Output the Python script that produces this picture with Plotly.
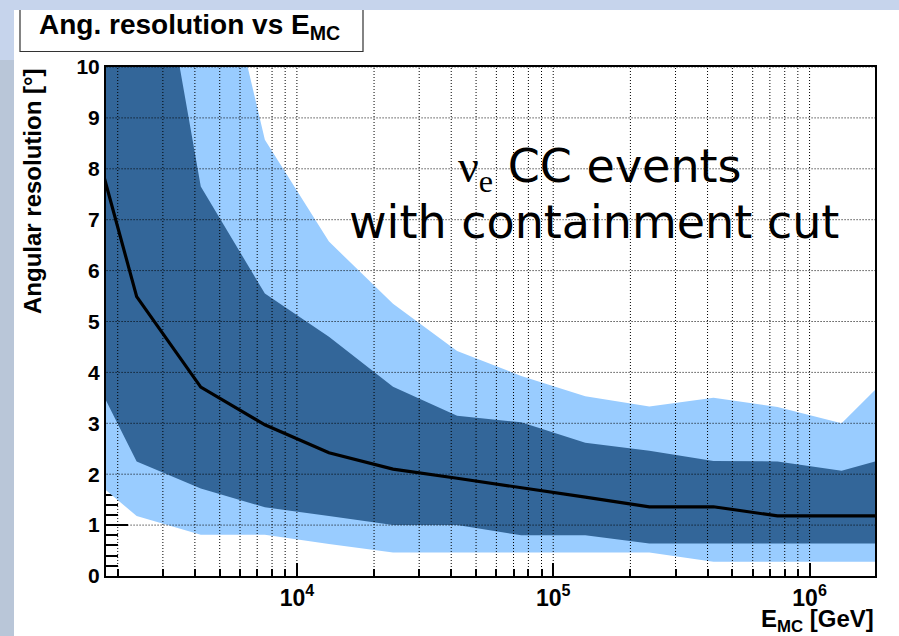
import math
import plotly.graph_objects as go

# Energy bin centres [GeV], quarter-decade bins
energy_gev = [1334, 2371, 4217, 7499, 13335, 23714, 42170, 74989,
              133352, 237137, 421697, 749894, 1333521, 2371374]

# Angular resolution [deg]: median and the two quantile bands
res_median = [10.1, 5.49, 3.71, 2.97, 2.42, 2.10, 1.92, 1.74, 1.55, 1.36, 1.36, 1.18, 1.18, 1.18]
inner_low = [4.75, 2.25, 1.72, 1.35, 1.18, 1.00, 1.00, 0.80, 0.80, 0.64, 0.64, 0.64, 0.64, 0.64]
inner_high = [20.0, 14.8, 7.65, 5.55, 4.70, 3.72, 3.15, 3.02, 2.62, 2.46, 2.26, 2.25, 2.07, 2.41]
outer_low = [2.23, 1.18, 0.81, 0.81, 0.63, 0.46, 0.46, 0.46, 0.46, 0.46, 0.28, 0.28, 0.28, 0.28]
outer_high = [25.0, 20.0, 13.9, 8.57, 6.57, 5.35, 4.42, 3.93, 3.53, 3.33, 3.50, 3.32, 3.00, 4.26]

# Axis ranges and ticks
e_min, e_max = 1.8e3, 1.8e6
y_min, y_max = 0, 10
x_major = [1e4, 1e5, 1e6]
x_major_text = ["10<sup>4</sup>", "10<sup>5</sup>", "10<sup>6</sup>"]
x_grid = [m * 10 ** d for d in (3, 4, 5, 6) for m in range(1, 10)
          if e_min <= m * 10 ** d <= e_max]
x_minor = [v for v in x_grid if v not in x_major]
y_grid = list(range(1, 11))

LIGHT = "#99ccff"
DARK = "#336699"
FONT = "Liberation Sans"

W, H = 899, 636
L, R, T, B = 106, 875, 67, 576


def px_x(p):
    return (p - L) / (R - L)


def px_y(p):
    return (B - p) / (B - T)


fig = go.Figure()

# outer band
fig.add_trace(go.Scatter(x=energy_gev, y=outer_high, mode="lines",
                         line=dict(width=0, color=LIGHT), showlegend=False,
                         hoverinfo="skip"))
fig.add_trace(go.Scatter(x=energy_gev, y=outer_low, mode="lines", fill="tonexty",
                         fillcolor=LIGHT, line=dict(width=0, color=LIGHT),
                         showlegend=False, hoverinfo="skip"))
# inner band
fig.add_trace(go.Scatter(x=energy_gev, y=inner_high, mode="lines",
                         line=dict(width=0, color=DARK), showlegend=False,
                         hoverinfo="skip"))
fig.add_trace(go.Scatter(x=energy_gev, y=inner_low, mode="lines", fill="tonexty",
                         fillcolor=DARK, line=dict(width=0, color=DARK),
                         showlegend=False, hoverinfo="skip"))

# dotted grid drawn over the bands
gx, gy = [], []
for v in x_grid:
    gx += [v, v, None]
    gy += [y_min, y_max, None]
for v in y_grid:
    gx += [1e3, 3e6, None]
    gy += [v, v, None]
fig.add_trace(go.Scatter(x=gx, y=gy, mode="lines",
                         line=dict(color="black", width=1, dash="1px,2px"),
                         showlegend=False, hoverinfo="skip"))

# median
fig.add_trace(go.Scatter(x=energy_gev, y=res_median, mode="lines",
                         line=dict(color="black", width=3.2),
                         showlegend=False, hoverinfo="skip"))

fig.update_layout(
    width=W, height=H, autosize=False,
    margin=dict(l=L, r=W - R, t=T, b=H - B, pad=0),
    paper_bgcolor="#c6d4ec",
    plot_bgcolor="white",
    showlegend=False,
    font=dict(family=FONT, color="black"),
    xaxis=dict(
        type="log", range=[math.log10(e_min), math.log10(e_max)],
        tickmode="array", tickvals=x_major, ticktext=x_major_text,
        ticks="inside", ticklen=13, tickwidth=1.5, tickcolor="black",
        minor=dict(tickmode="array", tickvals=x_minor, ticks="inside",
                   ticklen=7, tickwidth=1.5, tickcolor="black", showgrid=False),
        showgrid=False, zeroline=False,
        showline=True, linecolor="black", linewidth=2, mirror=True,
        tickfont=dict(family=FONT, size=23, weight="bold", color="black"),
        layer="below traces",
    ),
    yaxis=dict(
        range=[y_min, y_max], tickmode="linear", tick0=0, dtick=1,
        ticks="inside", ticklen=22, tickwidth=1.5, tickcolor="black",
        minor=dict(dtick=0.2, ticks="inside", ticklen=12, tickwidth=1.5,
                   tickcolor="black", showgrid=False),
        showgrid=False, zeroline=False,
        showline=True, linecolor="black", linewidth=2, mirror=True,
        tickfont=dict(family=FONT, size=21, weight="bold", color="black"),
        layer="below traces",
    ),
)

shapes = [
    # white canvas
    dict(type="rect", xref="paper", yref="paper", layer="below",
         x0=px_x(14), x1=px_x(W + 5), y0=px_y(10), y1=px_y(H + 5),
         fillcolor="white", line=dict(width=0)),
    # left strip of the page background
    dict(type="rect", xref="paper", yref="paper", layer="below",
         x0=px_x(-5), x1=px_x(14), y0=px_y(60), y1=px_y(H + 5),
         fillcolor="#b9c6d8", line=dict(width=0)),
    # title box
    dict(type="rect", xref="paper", yref="paper", layer="above",
         x0=px_x(20), x1=px_x(363), y0=px_y(4), y1=px_y(51.5),
         fillcolor="white", line=dict(color="#333333", width=1.2)),
    # page background strip above the canvas
    dict(type="rect", xref="paper", yref="paper", layer="above",
         x0=px_x(-5), x1=px_x(W + 5), y0=px_y(10), y1=px_y(-5),
         fillcolor="#c6d4ec", line=dict(width=0)),
]
fig.update_layout(shapes=shapes)

annotations = [
    dict(text="Ang. resolution vs E<sub>MC</sub>", xref="paper", yref="paper",
         x=px_x(37), y=px_y(26), xanchor="left", yanchor="middle", showarrow=False,
         font=dict(family=FONT, size=28, weight="bold", color="black")),
    dict(text="Angular resolution [°]", xref="paper", yref="paper",
         x=px_x(32), y=px_y(191), xanchor="center", yanchor="middle",
         textangle=-90, showarrow=False,
         font=dict(family=FONT, size=24, weight="bold", color="black")),
    dict(text="E<sub>MC</sub> [GeV]", xref="paper", yref="paper",
         x=px_x(876), y=px_y(620), xanchor="right", yanchor="middle",
         showarrow=False,
         font=dict(family=FONT, size=24, weight="bold", color="black")),
    dict(text="<span style='font-family:Liberation Serif'>ν<sub>e</sub></span> CC events",
         xref="paper", yref="paper", x=px_x(600), y=px_y(169),
         xanchor="center", yanchor="middle", showarrow=False,
         font=dict(family="DejaVu Sans", size=46, color="black")),
    dict(text="with containment cut",
         xref="paper", yref="paper", x=px_x(594), y=px_y(222),
         xanchor="center", yanchor="middle", showarrow=False,
         font=dict(family="DejaVu Sans", size=46, color="black")),
]
fig.update_layout(annotations=annotations)

fig.write_html("out.html")
